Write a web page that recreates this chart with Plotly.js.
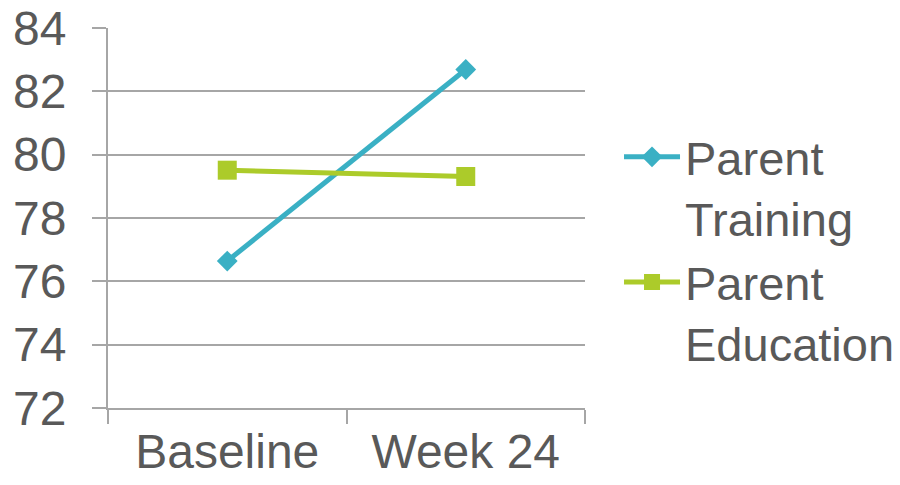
<!DOCTYPE html>
<html>
<head>
<meta charset="utf-8">
<script src="https://cdn.plot.ly/plotly-3.0.1.min.js"></script>
<style>html,body{margin:0;padding:0;background:#fff;}#chart{width:900px;height:485px;}</style>
</head>
<body>
<div id="chart"></div>
<script>
var categories = ["Baseline", "Week 24"];
var parentTraining = [76.64, 82.69];
var parentEducation = [79.51, 79.31];
var seriesNames = ["Parent<br>Training", "Parent<br>Education"];
var yTicks = [72, 74, 76, 78, 80, 82, 84];

var axisFont = {family: "Liberation Sans, Arial, sans-serif", size: 48, color: "#595959"};
var legendFont = {family: "Liberation Sans, Arial, sans-serif", size: 47, color: "#595959"};
var gridColor = "#a6a6a6";

var traces = [
  {x: categories, y: parentTraining, name: seriesNames[0], type: "scatter", mode: "lines+markers",
   line: {color: "#3ab0c4", width: 5}, marker: {symbol: "diamond", size: 16, color: "#3ab0c4"}},
  {x: categories, y: parentEducation, name: seriesNames[1], type: "scatter", mode: "lines+markers",
   line: {color: "#accb2a", width: 5}, marker: {symbol: "square", size: 19, color: "#accb2a"}}
];

var layout = {
  width: 900, height: 485,
  margin: {l: 108, r: 315, t: 28, b: 77},
  paper_bgcolor: "#fff", plot_bgcolor: "#fff",
  font: axisFont,
  showlegend: true,
  legend: {xref: "container", yref: "container", x: 0.6878, xanchor: "left", y: 0.5030, yanchor: "middle",
           font: legendFont, valign: "top", tracegroupgap: 0, itemwidth: 56, bgcolor: "rgba(0,0,0,0)"},
  xaxis: {type: "category", range: [-0.5, 1.5], showgrid: false, showline: true, linecolor: gridColor, linewidth: 2,
          ticks: "outside", ticklen: 14, tickwidth: 2, tickcolor: gridColor, tickson: "boundaries",
          tickfont: axisFont, zeroline: false, fixedrange: true, automargin: false},
  yaxis: {range: [72, 84], tickvals: yTicks, showgrid: true, gridcolor: gridColor, gridwidth: 2,
          showline: true, linecolor: gridColor, linewidth: 2, ticks: "outside", ticklen: 14,
          tickwidth: 2, tickcolor: gridColor, tickfont: axisFont, zeroline: false,
          ticklabelstandoff: 16, fixedrange: true, automargin: false}
};

Plotly.newPlot("chart", traces, layout, {displayModeBar: false, staticPlot: true});
</script>
</body>
</html>
